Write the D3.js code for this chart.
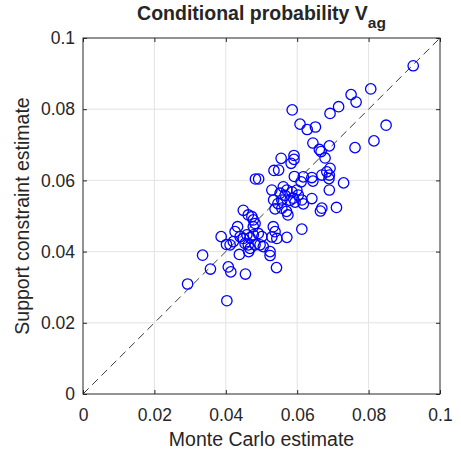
<!DOCTYPE html>
<html>
<head>
<meta charset="utf-8">
<script src="https://cdn.jsdelivr.net/npm/d3@7"></script>
<style>
  body { margin: 0; background: #fff; }
  svg text { font-family: "Liberation Sans", Arial, Helvetica, sans-serif; fill: #262626; }
</style>
</head>
<body>
<div id="vis"></div>
<script>
// Monte Carlo estimate (x) vs support constraint estimate (y)
const mcEstimate = [
  0.0586, 0.0751, 0.0806, 0.0765, 0.0716, 0.0692, 0.0608, 0.0628, 0.0651, 0.0849,
  0.0815, 0.0762, 0.0644, 0.0690, 0.0662, 0.0667, 0.0678, 0.0591, 0.0591, 0.0583,
  0.0555, 0.0535, 0.0548, 0.0483, 0.0492, 0.0692, 0.0683, 0.0690, 0.0669, 0.0689,
  0.0730, 0.0690, 0.0592, 0.0617, 0.0641, 0.0644, 0.0611, 0.0529, 0.0561, 0.0571,
  0.0552, 0.0566, 0.0585, 0.0599, 0.0603, 0.0589, 0.0580, 0.0594, 0.0613, 0.0617,
  0.0641, 0.0557, 0.0546, 0.0534, 0.0538, 0.0557, 0.0570, 0.0574, 0.0710, 0.0669,
  0.0665, 0.0449, 0.0463, 0.0473, 0.0477, 0.0477, 0.0482, 0.0533, 0.0538, 0.0529,
  0.0543, 0.0571, 0.0613, 0.0433, 0.0426, 0.0387, 0.0412, 0.0421, 0.0440, 0.0449,
  0.0459, 0.0468, 0.0477, 0.0491, 0.0501, 0.0454, 0.0463, 0.0468, 0.0482, 0.0496,
  0.0505, 0.0438, 0.0464, 0.0524, 0.0524, 0.0335, 0.0357, 0.0407, 0.0414, 0.0455,
  0.0542, 0.0293, 0.0403, 0.0402, 0.0925
];
const scEstimate = [
  0.0798, 0.0841, 0.0857, 0.0820, 0.0807, 0.0788, 0.0758, 0.0743, 0.0750, 0.0755,
  0.0711, 0.0692, 0.0705, 0.0697, 0.0687, 0.0681, 0.0663, 0.0670, 0.0659, 0.0648,
  0.0662, 0.0628, 0.0629, 0.0604, 0.0604, 0.0634, 0.0624, 0.0615, 0.0615, 0.0605,
  0.0593, 0.0573, 0.0611, 0.0610, 0.0608, 0.0598, 0.0596, 0.0573, 0.0582, 0.0573,
  0.0564, 0.0558, 0.0568, 0.0573, 0.0559, 0.0550, 0.0544, 0.0539, 0.0545, 0.0534,
  0.0549, 0.0545, 0.0535, 0.0545, 0.0520, 0.0522, 0.0513, 0.0503, 0.0524, 0.0522,
  0.0514, 0.0516, 0.0503, 0.0498, 0.0489, 0.0470, 0.0479, 0.0470, 0.0456, 0.0441,
  0.0437, 0.0440, 0.0463, 0.0470, 0.0456, 0.0442, 0.0419, 0.0428, 0.0442, 0.0437,
  0.0447, 0.0439, 0.0447, 0.0451, 0.0442, 0.0423, 0.0419, 0.0409, 0.0419, 0.0419,
  0.0414, 0.0392, 0.0400, 0.0400, 0.0389, 0.0390, 0.0351, 0.0357, 0.0343, 0.0337,
  0.0355, 0.0309, 0.0262, 0.0420, 0.0922
];
const tickValues = [0, 0.02, 0.04, 0.06, 0.08, 0.1];
const tickLabels = ['0', '0.02', '0.04', '0.06', '0.08', '0.1'];
const refLine = [0, 0.1];

const margin = { top: 38, right: 21, bottom: 61, left: 83 };
const width = 461 - margin.left - margin.right;
const height = 455 - margin.top - margin.bottom;

const svg = d3.select('#vis')
    .append('svg')
    .attr('width', 461)
    .attr('height', 455);

const g = svg.append('g')
    .attr('transform', `translate(${margin.left},${margin.top})`);

const xScale = d3.scaleLinear().domain([0, 0.1]).range([0, width]);
const yScale = d3.scaleLinear().domain([0, 0.1]).range([height, 0]);

// grid
g.append('g')
    .selectAll('line')
    .data(tickValues.slice(1, -1))
    .join('line')
    .attr('x1', d => xScale(d)).attr('x2', d => xScale(d))
    .attr('y1', 0).attr('y2', height)
    .attr('stroke', '#e3e3e3');
g.append('g')
    .selectAll('line')
    .data(tickValues.slice(1, -1))
    .join('line')
    .attr('y1', d => yScale(d)).attr('y2', d => yScale(d))
    .attr('x1', 0).attr('x2', width)
    .attr('stroke', '#e3e3e3');

// dashed y = x line
g.append('line')
    .attr('x1', xScale(refLine[0])).attr('y1', yScale(refLine[0]))
    .attr('x2', xScale(refLine[1])).attr('y2', yScale(refLine[1]))
    .attr('stroke', '#262626')
    .attr('stroke-width', 0.9)
    .attr('stroke-dasharray', '8,5');

// points
g.selectAll('.points')
    .data(mcEstimate.map((d, i) => ({ x: d, y: scEstimate[i] })))
    .join('circle')
    .attr('class', 'points')
    .attr('cx', d => xScale(d.x))
    .attr('cy', d => yScale(d.y))
    .attr('r', 5.2)
    .attr('fill', 'none')
    .attr('stroke', '#0000ff')
    .attr('stroke-width', 1.3);

// axes, ticks pointing inward
const fmt = (d, i) => tickLabels[i];
const styleAxis = sel => {
    sel.select('.domain').remove();
    sel.selectAll('line').attr('stroke', '#262626');
    sel.selectAll('text').style('font-size', '17.5px').attr('fill', '#262626');
};

g.append('g')
    .attr('transform', `translate(0,${height})`)
    .call(d3.axisBottom(xScale).tickValues(tickValues).tickFormat(fmt).tickSizeInner(-4).tickPadding(15))
    .call(styleAxis);
g.append('g')
    .call(d3.axisTop(xScale).tickValues(tickValues).tickFormat('').tickSizeInner(-4))
    .call(styleAxis);
g.append('g')
    .call(d3.axisLeft(yScale).tickValues(tickValues).tickFormat(fmt).tickSizeInner(-4).tickPadding(8))
    .call(styleAxis);
g.append('g')
    .attr('transform', `translate(${width},0)`)
    .call(d3.axisRight(yScale).tickValues(tickValues).tickFormat('').tickSizeInner(-4))
    .call(styleAxis);

// box
g.append('rect')
    .attr('width', width).attr('height', height)
    .attr('fill', 'none')
    .attr('stroke', '#262626')
    .attr('stroke-width', 1);

// labels
g.append('text')
    .attr('x', width / 2)
    .attr('y', height + 52)
    .attr('text-anchor', 'middle')
    .style('font-size', '19.5px')
    .text('Monte Carlo estimate');

g.append('text')
    .attr('transform', 'rotate(-90)')
    .attr('x', -height / 2)
    .attr('y', -54)
    .attr('text-anchor', 'middle')
    .style('font-size', '19.5px')
    .text('Support constraint estimate');

const title = g.append('text')
    .attr('x', width / 2)
    .attr('y', -18)
    .attr('text-anchor', 'middle')
    .style('font-size', '19.5px')
    .style('font-weight', 'bold')
    .attr('fill', '#000');
title.append('tspan').text('Conditional probability V');
title.append('tspan').attr('dy', 8).style('font-size', '15.5px').text('ag');
</script>
</body>
</html>
